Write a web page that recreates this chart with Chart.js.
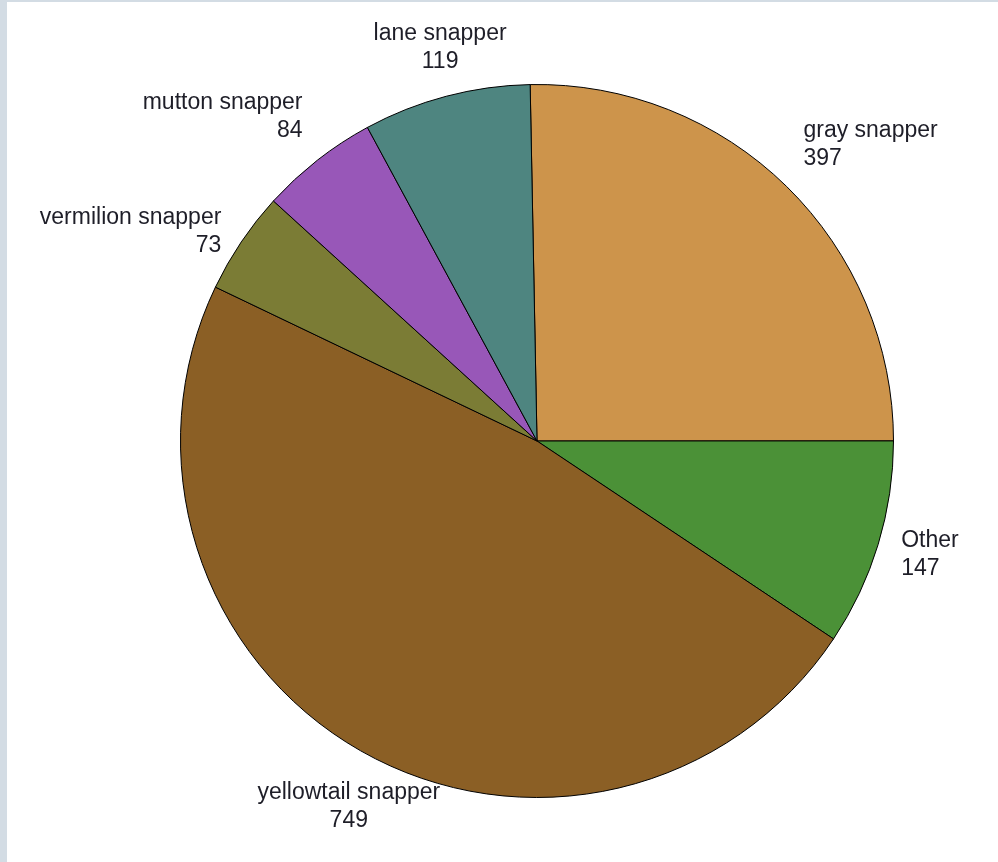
<!DOCTYPE html>
<html>
<head>
<meta charset="utf-8">
<script src="https://cdn.jsdelivr.net/npm/chart.js@4"></script>
<style>
  html, body { margin: 0; padding: 0; background: #d3dce4; }
  #wrap { position: absolute; left: 7px; top: 2px; width: 991px; height: 860px; background: #fff; }
</style>
</head>
<body>
<div id="wrap"><canvas id="myChart"></canvas></div>
<script>
// Catch counts by species
const species = ['gray snapper', 'Other', 'yellowtail snapper', 'vermilion snapper', 'mutton snapper', 'lane snapper'];
const counts = [397, 147, 749, 73, 84, 119];
const sliceColors = ['#cd944b', '#4b9137', '#8b5f25', '#7b7c35', '#9857b8', '#4e8580'];

// Draw "name / count" labels outside each slice.
// The label block hangs off a point just past the rim, on the slice's mid angle;
// which corner/edge touches that point depends on the direction.
const outsideLabels = {
  id: 'outsideLabels',
  afterDatasetsDraw(chart) {
    const ctx = chart.ctx;
    const meta = chart.getDatasetMeta(0);
    const lineH = 28;
    ctx.save();
    ctx.font = '23px "Liberation Sans", Arial, sans-serif';
    ctx.fillStyle = '#1e1e28';
    ctx.textBaseline = 'middle';
    meta.data.forEach(function(arc, i) {
      const mid = (arc.startAngle + arc.endAngle) / 2;
      const c = Math.cos(mid);
      const s = Math.sin(mid);
      const dist = arc.outerRadius + 24;
      const x = arc.x + c * dist;
      const y = arc.y + s * dist;

      let align = 'center';
      if (c > 0.5) align = 'left';
      else if (c < -0.5) align = 'right';

      // top of the two-line block
      let top = y - lineH;
      if (s < -0.65) top = y - 2 * lineH;
      else if (s > 0.65) top = y + 4;
      top += 3;

      ctx.textAlign = align;
      ctx.fillText(species[i], x, top + lineH / 2);
      ctx.fillText(String(counts[i]), x, top + lineH * 1.5);
    });
    ctx.restore();
  }
};

const ctx = document.getElementById('myChart');

const myChart = new Chart(ctx, {
  type: 'pie',
  data: {
    labels: species,
    datasets: [{
      data: counts,
      backgroundColor: sliceColors,
      borderColor: '#000',
      borderWidth: 1,
    }]
  },
  options: {
    responsive: true,
    maintainAspectRatio: false,
    animation: false,
    rotation: -1.1,
    layout: { padding: { left: 173, right: 104, top: 82, bottom: 64 } },
    plugins: {
      legend: { display: false },
      tooltip: { enabled: false },
    },
    events: [],
  },
  plugins: [outsideLabels]
});
</script>
</body>
</html>
